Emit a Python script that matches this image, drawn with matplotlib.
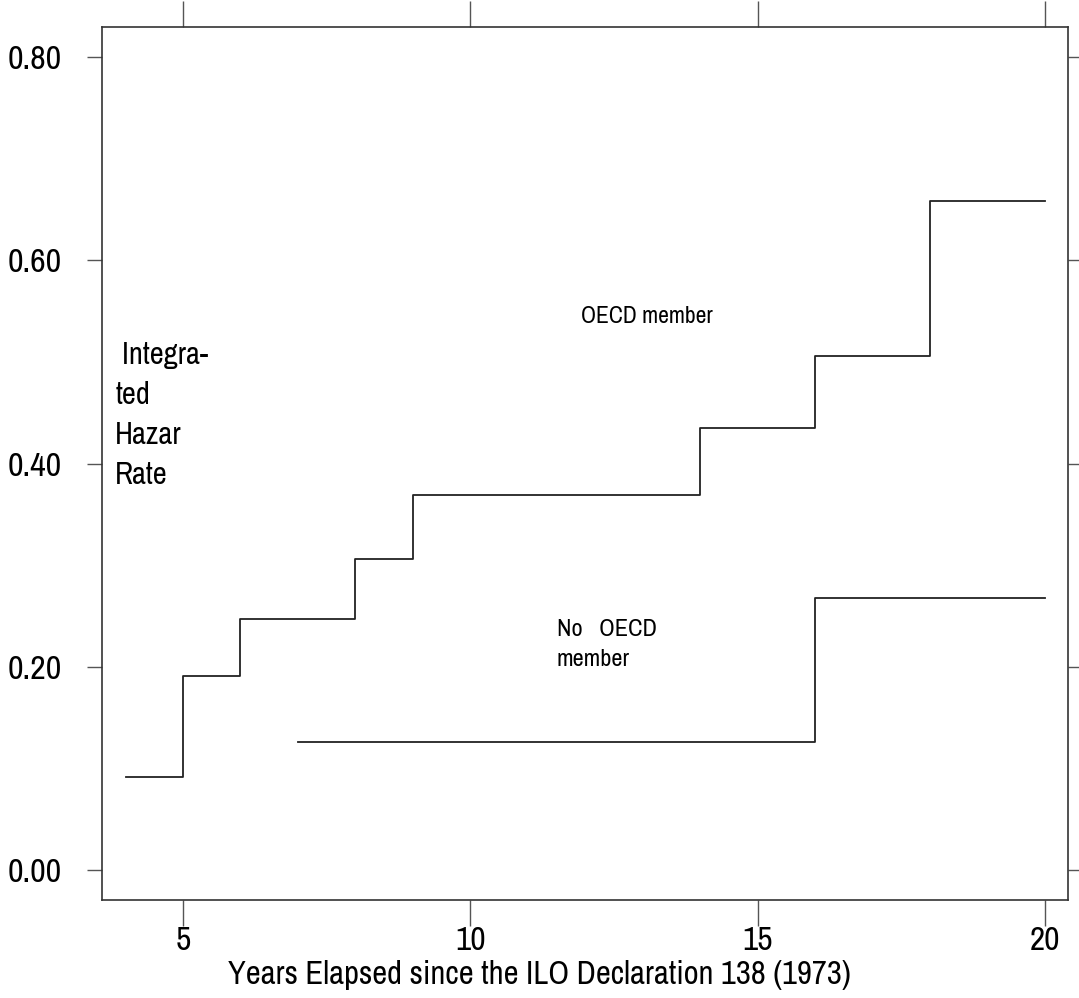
import matplotlib
matplotlib.use("Agg")
import matplotlib.pyplot as plt
from matplotlib import font_manager

names = {f.name for f in font_manager.fontManager.ttflist}
FAM = 'Archivo Narrow' if 'Archivo Narrow' in names else 'Liberation Sans'
plt.rcParams['font.family'] = [FAM, 'DejaVu Sans']

# Data
oecd_years = [4, 5, 6, 8, 9, 14, 16, 18, 20]
oecd_hazard = [0.092, 0.191, 0.247, 0.306, 0.369, 0.435, 0.506, 0.659, 0.659]
non_oecd_years = [7, 16, 20]
non_oecd_hazard = [0.126, 0.268, 0.268]
x_ticks = [5, 10, 15, 20]
y_ticks = [0.0, 0.2, 0.4, 0.6, 0.8]
y_ticklabels = ["0.00", "0.20", "0.40", "0.60", "0.80"]

fig = plt.figure(figsize=(10.79, 9.98), dpi=100)
ax = fig.add_axes([102/1079, 1-900/998, (1068-102)/1079, (900-27)/998])

ax.step(oecd_years, oecd_hazard, where='post', color='#222222', lw=1.3)
ax.step(non_oecd_years, non_oecd_hazard, where='post', color='#222222', lw=1.3)

ax.set_xlim(3.59, 20.40)
ax.set_ylim(-0.0295, 0.8298)
ax.set_xticks(x_ticks)
ax.set_xticklabels([str(t) for t in x_ticks])
ax.set_yticks(y_ticks)
ax.set_yticklabels(y_ticklabels)

for s in ax.spines.values():
    s.set_color('#333333')
    s.set_linewidth(1.2)

ax.tick_params(axis='y', which='both', direction='out', length=11, width=1.0,
               color='#555555', labelsize=24.5, pad=18, right=True, left=True)
ax.tick_params(axis='x', which='both', direction='out', length=19, width=1.0,
               color='#555555', labelsize=24, pad=0, top=True)

ax.text(13.08, 0.545, 'OECD member', fontsize=17, ha='center', va='center')
ax.text(11.5, 0.222, 'No   OECD\nmember', fontsize=17.5, ha='left', va='center',
        linespacing=1.5)
ax.text(3.82, 0.448, ' Integra-\nted\nHazar\nRate', fontsize=22, ha='left', va='center',
        linespacing=1.52)

fig.text(539/1079, 1-975/998, 'Years Elapsed since the ILO Declaration 138 (1973)',
         fontsize=23.5, ha='center', va='center')

fig.savefig('out.png', dpi=100)
